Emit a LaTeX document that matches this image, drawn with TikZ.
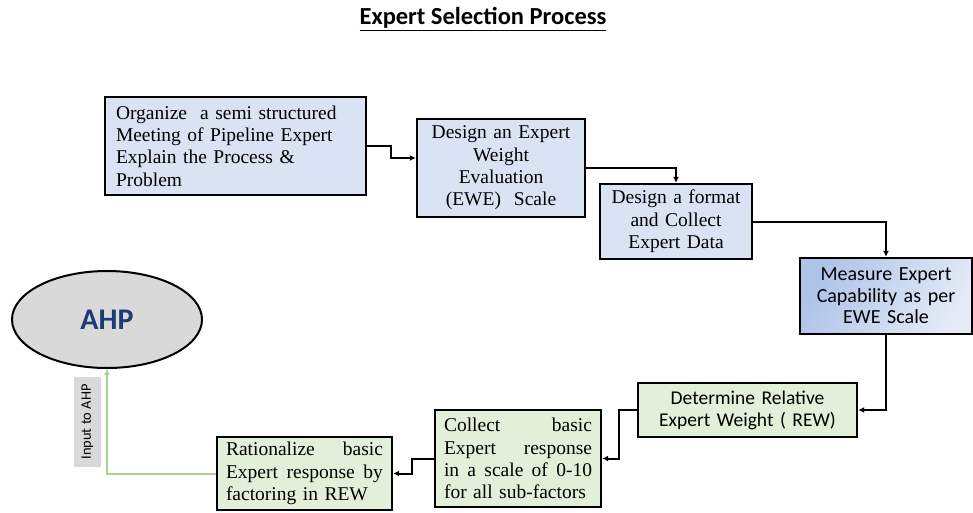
\documentclass[tikz,border=0pt]{standalone}
\usepackage{fontspec}
\setmainfont{Liberation Serif}
\newfontfamily\calibri{Carlito}
\usetikzlibrary{arrows.meta,shapes.geometric,calc}

\definecolor{boxblue}{HTML}{DAE3F3}
\definecolor{boxblueA}{HTML}{AEC3E8}
\definecolor{boxblueB}{HTML}{E4EBF7}
\definecolor{boxgreen}{HTML}{E2EFD9}
\definecolor{ahpgray}{HTML}{D9D9D9}
\definecolor{ahpnavy}{HTML}{1F3A78}
\definecolor{linkgreen}{HTML}{A9D18E}

% stretchable word gap for the justified lines
\newcommand{\js}{\ \hspace{0pt plus 1fil}}

\tikzset{
  procbox/.style={draw=black, line width=2.4pt, inner xsep=10pt, inner ysep=0pt,
    font=\fontsize{19.5}{22.3}\selectfont},
  bluebox/.style={procbox, fill=boxblue},
  greenbox/.style={procbox, fill=boxgreen},
  sansbox/.style={font=\calibri\fontsize{19.5}{21.8}\selectfont},
  conn/.style={draw=black, line width=2pt, line join=miter,
    -{Latex[length=6pt,width=6pt]}},
  greenconn/.style={draw=linkgreen, line width=2pt, line join=miter,
    -{Latex[length=6pt,width=6pt]}},
}

\begin{document}
\begin{tikzpicture}[x=1pt,y=-1pt]
\useasboundingbox (0,0) rectangle (973,512);

% title
\node (title) at (483,19)
  {\calibri\bfseries\fontsize{24.5}{28}\selectfont\underline{Expert Selection Process}};

% upper chain (blue boxes)
\node[bluebox, text width=239pt, inner xsep=11pt, minimum height=98pt, align=left]
  (b1) at (235.5,146)
  {Organize\ \ a semi structured\\Meeting of Pipeline Expert\\Explain the Process \&\\Problem};

\node[bluebox, text width=152pt, inner xsep=8pt, minimum height=98pt, align=center]
  (b2) at (501,168)
  {Design an Expert\\Weight\\Evaluation\\(EWE)\ \ Scale};

\node[bluebox, text width=136pt, inner xsep=8pt, minimum height=75pt, align=center]
  (b3) at (676,221.5)
  {Design a format\\and Collect\\Expert Data};

\node[procbox, sansbox, left color=boxblueA, right color=boxblueB, shading angle=60,
      font=\calibri\fontsize{20}{21.5}\selectfont,
      text width=156pt, inner xsep=8pt, minimum height=76pt, align=center]
  (b4) at (886,296)
  {Measure Expert\\Capability as per\\EWE Scale};

% lower chain (green boxes)
\node[greenbox, sansbox, text width=199pt, minimum height=54pt, align=center]
  (b5) at (747.5,410)
  {Determine Relative\\Expert Weight ( REW)};

\node[greenbox, text width=148pt, inner xsep=9pt, minimum height=97pt, align=left]
  (b6) at (518,458.5)
  {\makebox[148pt][s]{Collect\js basic}\\
   \makebox[148pt][s]{Expert\js response}\\
   \makebox[148pt][s]{in\js a\js scale\js of\js 0-10}\\
   for all sub-factors};

\node[greenbox, text width=157pt, inner xsep=9pt, minimum height=73pt, align=left]
  (b7) at (304.5,473.5)
  {\makebox[157pt][s]{Rationalize\js basic}\\
   \makebox[157pt][s]{Expert\js response\js by}\\
   factoring in REW};

% AHP target
\node[ellipse, draw=black, line width=2pt, fill=ahpgray, minimum width=190pt,
      minimum height=97pt, inner sep=0pt,
      font=\calibri\bfseries\fontsize{30}{34}\selectfont, text=ahpnavy]
  (ahp) at (107,319.5) {AHP};

\node[fill=ahpgray, rotate=90, minimum width=90pt, minimum height=27pt, inner sep=0pt,
      font=\calibri\fontsize{14.5}{16}\selectfont]
  (inlabel) at (87.5,422) {Input to AHP};

% connectors
\draw[conn] (b1.east) -- ++(24,0) |- ([yshift=10pt]b2.west);
\draw[conn] (b2.east) -| (b3.north);
\draw[conn] (b3.east) -| (b4.north);
\draw[conn] (b4.south) |- (b5.east);
\draw[conn] (b5.west) -- ++(-18,0) |- (b6.east);
\draw[conn] (b6.west) -- ++(-22,0) |- (b7.east);
\draw[greenconn] (b7.west) -| (ahp.south);
\end{tikzpicture}
\end{document}
